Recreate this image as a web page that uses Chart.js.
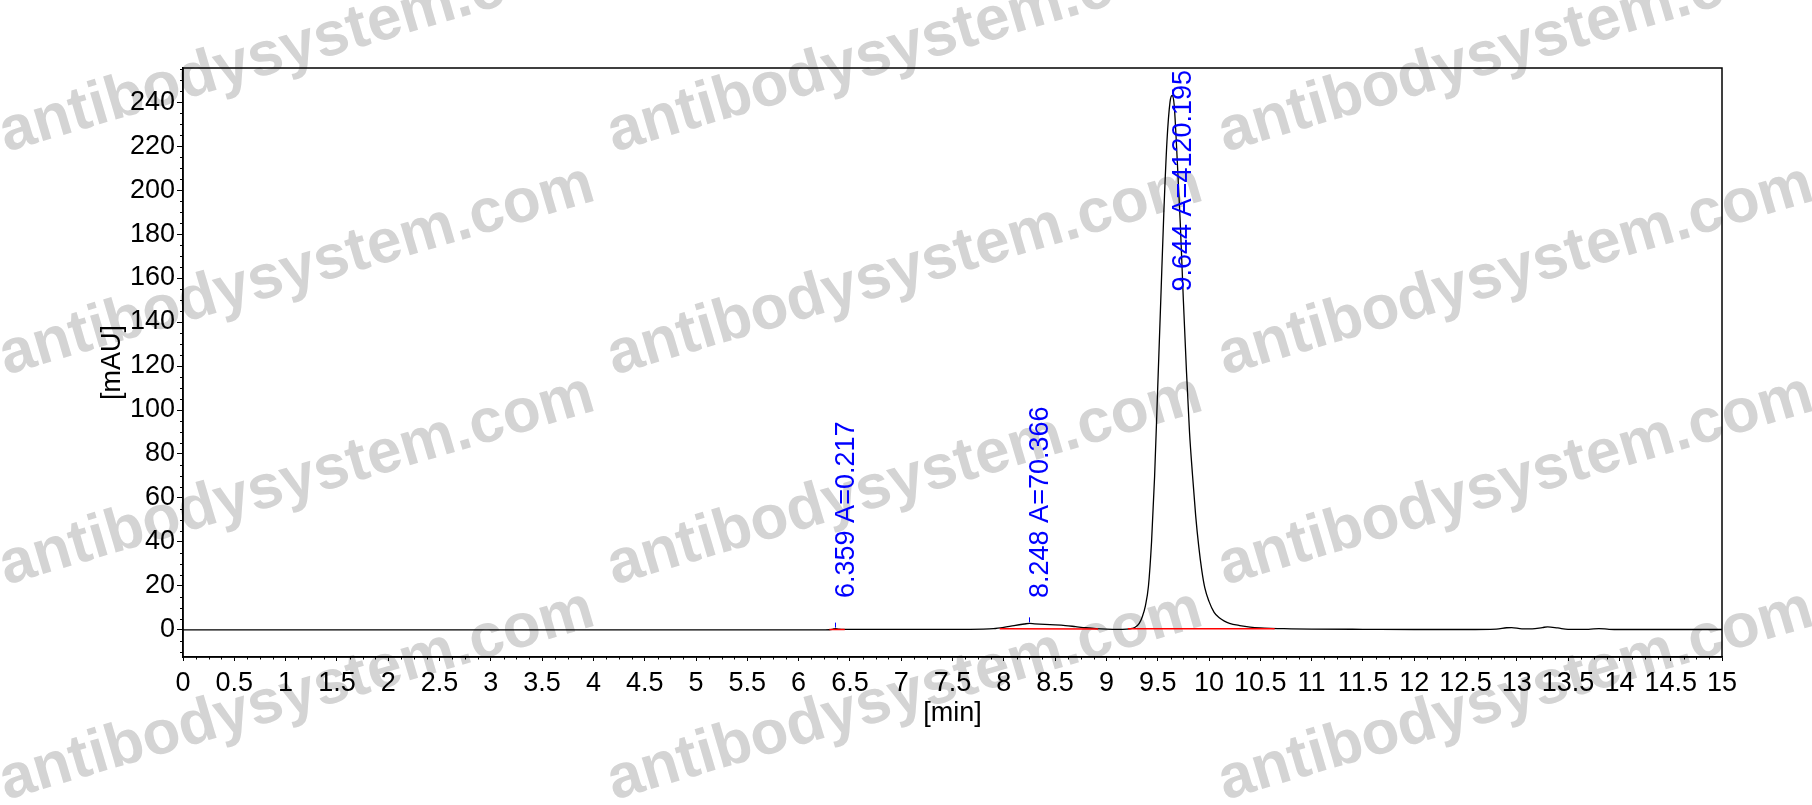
<!DOCTYPE html>
<html>
<head>
<meta charset="utf-8">
<script src="https://cdn.jsdelivr.net/npm/chart.js@4.4.1/dist/chart.umd.min.js"></script>
<style>
  html, body { margin: 0; padding: 0; background: #fff; }
  #wrap { width: 1812px; height: 805px; }
</style>
</head>
<body>
<div id="wrap"><canvas id="c" width="1812" height="805"></canvas></div>
<script>
// ---- data ----
const times = [
  0, 0.5, 1, 1.5, 2, 2.5, 3, 3.5, 4, 4.5, 5, 5.5, 6, 6.25, 6.30, 6.33, 6.36, 6.39, 6.45, 6.6,
  7.0, 7.5, 7.8, 7.9, 8.0, 8.1, 8.2, 8.25, 8.3, 8.4, 8.5, 8.6, 8.7, 8.8, 8.9, 9.0, 9.1, 9.2,
  9.25, 9.28, 9.32, 9.35, 9.38, 9.41, 9.44, 9.47, 9.50, 9.53, 9.56, 9.59, 9.62, 9.64, 9.66,
  9.69, 9.72, 9.75, 9.78, 9.81, 9.84, 9.87, 9.90, 9.93, 9.96, 10.00, 10.05, 10.10, 10.15,
  10.20, 10.30, 10.40, 10.50, 10.60, 10.70, 10.80, 11.0, 11.5, 12.0, 12.5, 12.8, 12.9, 12.95,
  13.05, 13.15, 13.25, 13.3, 13.4, 13.5, 13.7, 13.8, 13.9, 14.0, 14.5, 15.0
];
const signal = [
  0, 0, 0, 0, 0, 0, 0, 0, 0, 0, 0, 0, 0, 0.05, 0.1, 0.3, 0.6, 0.4, 0.3, 0.3,
  0.3, 0.3, 0.4, 0.6, 1.2, 2.0, 2.7, 3.0, 2.8, 2.5, 2.3, 2.0, 1.5, 1.0, 0.6, 0.4, 0.3, 0.4,
  0.7, 1.2, 3, 6, 11, 20, 40, 70, 110, 150, 190, 222, 240, 243, 239,
  214, 185, 150, 118, 90, 70, 52, 38, 27, 19, 13, 8, 5.5, 4,
  3, 2, 1.3, 0.9, 0.7, 0.6, 0.5, 0.4, 0.3, 0.2, 0.2, 0.4, 1.0, 1.1,
  0.5, 0.5, 1.1, 1.4, 0.9, 0.3, 0.3, 0.6, 0.3, 0.2, 0.2, 0.2
];
// integration baselines (red), null separates segments
const baseX = [6.30, 6.45, null, 7.96, 8.92, null, 9.21, 10.64];
const baseY = [0.15, 0.25, null, 0.6, 0.45, null, 0.5, 0.6];
// peak annotations
const peakTimes = ['6.359', '8.248', '9.644'];
const peakAreas = ['0.217', '70.366', '4120.195'];
const peakHeights = [0.6, 3.0, 243];
// axis ticks
const xTicks = [0, 0.5, 1, 1.5, 2, 2.5, 3, 3.5, 4, 4.5, 5, 5.5, 6, 6.5, 7, 7.5, 8, 8.5, 9, 9.5,
                10, 10.5, 11, 11.5, 12, 12.5, 13, 13.5, 14, 14.5, 15];
const yTicks = [0, 20, 40, 60, 80, 100, 120, 140, 160, 180, 200, 220, 240];
const xLabel = '[min]';
const yLabel = '[mAU]';
const watermarkText = 'antibodysystem.com';

const FONT = '"Liberation Sans", Arial, sans-serif';
const FS = 27;

const traceData = times.map((t, i) => ({ x: t, y: signal[i] }));
const baseData = baseX.map((t, i) => ({ x: t, y: baseY[i] }));

const bgPlugin = {
  id: 'bg',
  beforeDraw(chart) {
    const c = chart.ctx;
    c.save();
    c.fillStyle = '#fff';
    c.fillRect(0, 0, chart.width, chart.height);
    // watermark
    c.fillStyle = 'rgb(212,212,212)';
    c.font = 'bold 62px ' + FONT;
    c.textBaseline = 'alphabetic';
    const cols = [6, 614, 1225];
    const rows = [152, 375, 585, 800];
    cols.forEach(cx => rows.forEach(ry => {
      c.save();
      c.translate(cx, ry);
      c.rotate(-16.5 * Math.PI / 180);
      c.fillText(watermarkText, 0, 0);
      c.restore();
    }));
    c.restore();
  }
};

const decoPlugin = {
  id: 'deco',
  afterDraw(chart) {
    const c = chart.ctx;
    const xs = chart.scales.x, ys = chart.scales.y;
    const a = chart.chartArea;
    c.save();
    // frame
    c.strokeStyle = '#000';
    c.lineWidth = 1.5;
    c.strokeRect(a.left, a.top, a.right - a.left, a.bottom - a.top);
    // minor ticks
    c.lineWidth = 1;
    c.beginPath();
    for (let v = -10; v <= ys.max; v += 5) {
      if (v % 20 === 0) continue;
      const py = Math.round(ys.getPixelForValue(v)) + 0.5;
      c.moveTo(a.left, py); c.lineTo(a.left - 3, py);
    }
    for (let k = 0; k <= 120; k++) {
      if (k % 4 === 0) continue;
      const px = Math.round(xs.getPixelForValue(k * 0.125)) + 0.5;
      c.moveTo(px, a.bottom); c.lineTo(px, a.bottom + 2.5);
    }
    c.stroke();
    // peak markers and labels
    c.strokeStyle = '#0000ff';
    c.fillStyle = '#0000ff';
    c.font = FS + 'px ' + FONT;
    c.textBaseline = 'alphabetic';
    c.textAlign = 'left';
    const zeroPx = ys.getPixelForValue(0);
    peakTimes.forEach((t, i) => {
      const px = xs.getPixelForValue(parseFloat(t));
      const py = ys.getPixelForValue(peakHeights[i]);
      c.beginPath();
      c.moveTo(Math.round(px) + 0.5, py - 1);
      c.lineTo(Math.round(px) + 0.5, py - 6);
      c.stroke();
      const txt = t + ' A=' + peakAreas[i];
      const w = c.measureText(txt).width;
      let start = Math.min(zeroPx - 32, py - 20);
      if (start - w < a.top + 2) start = a.top + 2 + w;
      c.save();
      c.translate(px - 1, start);
      c.rotate(-Math.PI / 2);
      c.fillText(txt, 0, FS * 0.72);
      c.restore();
    });
    c.restore();
  }
};

new Chart(document.getElementById('c'), {
  type: 'scatter',
  data: {
    datasets: [
      { label: 'baseline', data: baseData, showLine: true, spanGaps: false, borderColor: '#ff0000',
        borderWidth: 1.5, pointRadius: 0, order: 0 },
      { label: 'signal', data: traceData, showLine: true, borderColor: '#000', borderWidth: 1.3,
        pointRadius: 0, tension: 0.25, cubicInterpolationMode: 'monotone', order: 1 }
    ]
  },
  options: {
    responsive: false,
    animation: false,
    devicePixelRatio: 1,
    layout: { padding: { left: 95, top: 68, right: 90, bottom: 73 } },
    plugins: { legend: { display: false }, tooltip: { enabled: false } },
    scales: {
      x: {
        type: 'linear', min: 0, max: 15,
        afterBuildTicks: s => { s.ticks = xTicks.map(v => ({ value: v })); },
        afterFit: s => { s.height = 75; },
        ticks: { autoSkip: false, maxRotation: 0, minRotation: 0, color: '#000', padding: 6,
                 font: { size: FS, family: FONT },
                 callback: v => String(Number(Number(v).toFixed(3))) },
        grid: { drawOnChartArea: false, drawTicks: true, tickLength: 4, color: '#000', lineWidth: 1 },
        border: { display: true, color: '#000', width: 1.5 },
        title: { display: true, text: xLabel, color: '#000', font: { size: FS, family: FONT },
                 padding: { top: 0, bottom: 2 } }
      },
      y: {
        type: 'linear', min: -12.3, max: 255.5,
        afterBuildTicks: s => { s.ticks = yTicks.map(v => ({ value: v })); },
        afterFit: s => { s.width = 88; },
        ticks: { autoSkip: false, color: '#000', padding: 2, font: { size: FS, family: FONT },
                 callback: v => String(v) },
        grid: { drawOnChartArea: false, drawTicks: true, tickLength: 6, color: '#000', lineWidth: 1 },
        border: { display: true, color: '#000', width: 1.5 },
        title: { display: true, text: yLabel, color: '#000', font: { size: FS, family: FONT },
                 padding: { top: 1, bottom: 0 } }
      }
    }
  },
  plugins: [bgPlugin, decoPlugin]
});
</script>
</body>
</html>
